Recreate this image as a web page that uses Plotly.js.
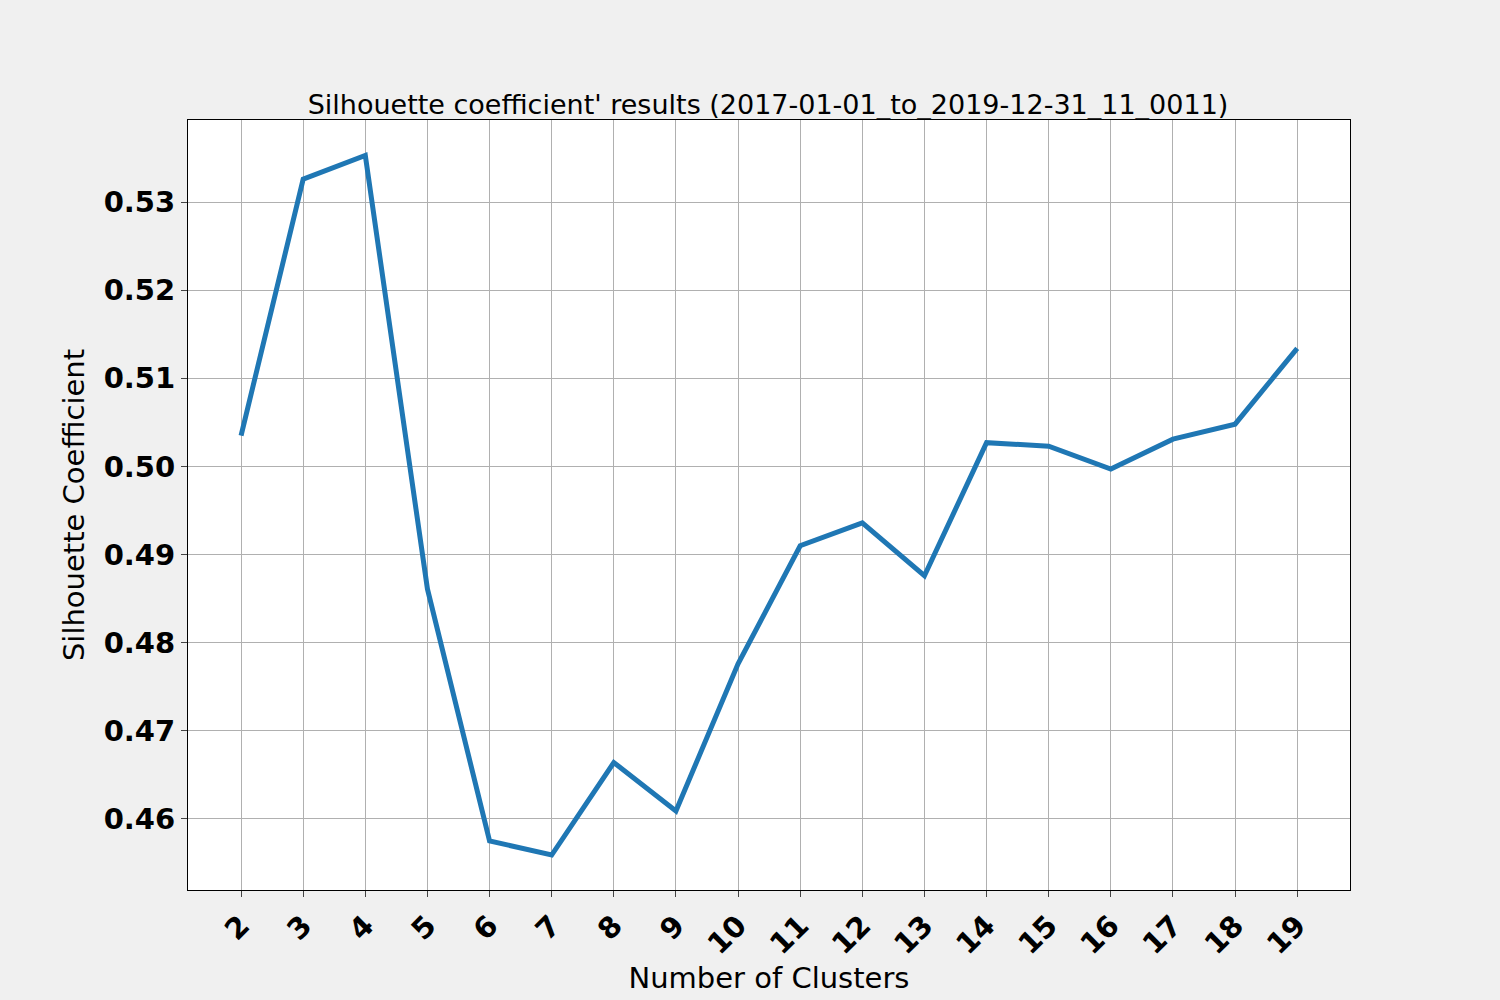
<!DOCTYPE html>
<html>
<head>
<meta charset="utf-8">
<script src="https://cdn.plot.ly/plotly-3.0.1.min.js"></script>
<style>body{margin:0;background:#f0f0f0;}</style>
</head>
<body>
<div id="chart" style="width:1500px;height:1000px;"></div>
<script>
var clusters = [2, 3, 4, 5, 6, 7, 8, 9, 10, 11, 12, 13, 14, 15, 16, 17, 18, 19];
var silhouette = [0.5035, 0.5326, 0.5353, 0.4861, 0.4575, 0.4559, 0.4664, 0.4609, 0.4776,
  0.4910, 0.4936, 0.4876, 0.5027, 0.5023, 0.4997, 0.5031, 0.5048, 0.5134];
var yTicks = [0.46, 0.47, 0.48, 0.49, 0.50, 0.51, 0.52, 0.53];

var data = [{
  type: "scatter",
  mode: "lines",
  x: clusters,
  y: silhouette,
  line: {color: "#1f77b4", width: 5}
}];

var layout = {
  width: 1500,
  height: 1000,
  margin: {l: 188, r: 150, t: 120, b: 110},
  paper_bgcolor: "#f0f0f0",
  plot_bgcolor: "#ffffff",
  showlegend: false,
  font: {family: "DejaVu Sans", color: "#000"},
  title: {text: "Silhouette coefficient' results (2017-01-01_to_2019-12-31_11_0011)",
    font: {size: 27}, x: 0.512, xanchor: "center", y: 0.886, yanchor: "bottom"},
  xaxis: {
    range: [1.146, 19.85],
    tickvals: clusters,
    ticktext: clusters.map(String),
    tickangle: -45,
    tickfont: {size: 29, weight: "bold"},
    ticks: "outside", ticklen: 6,
    showgrid: true, gridcolor: "#b0b0b0",
    showline: true, linecolor: "#000", mirror: true,
    zeroline: false,
    title: {text: "Number of Clusters", font: {size: 29}, standoff: 6}
  },
  yaxis: {
    range: [0.45193, 0.53932],
    tickvals: yTicks,
    ticktext: yTicks.map(function (v) { return v.toFixed(2); }),
    tickfont: {size: 29, weight: "bold"},
    ticks: "outside", ticklen: 6,
    showgrid: true, gridcolor: "#b0b0b0",
    showline: true, linecolor: "#000", mirror: true,
    zeroline: false,
    title: {text: "Silhouette Coefficient", font: {size: 29}, standoff: 10}
  }
};

Plotly.newPlot("chart", data, layout, {displayModeBar: false});
</script>
</body>
</html>
